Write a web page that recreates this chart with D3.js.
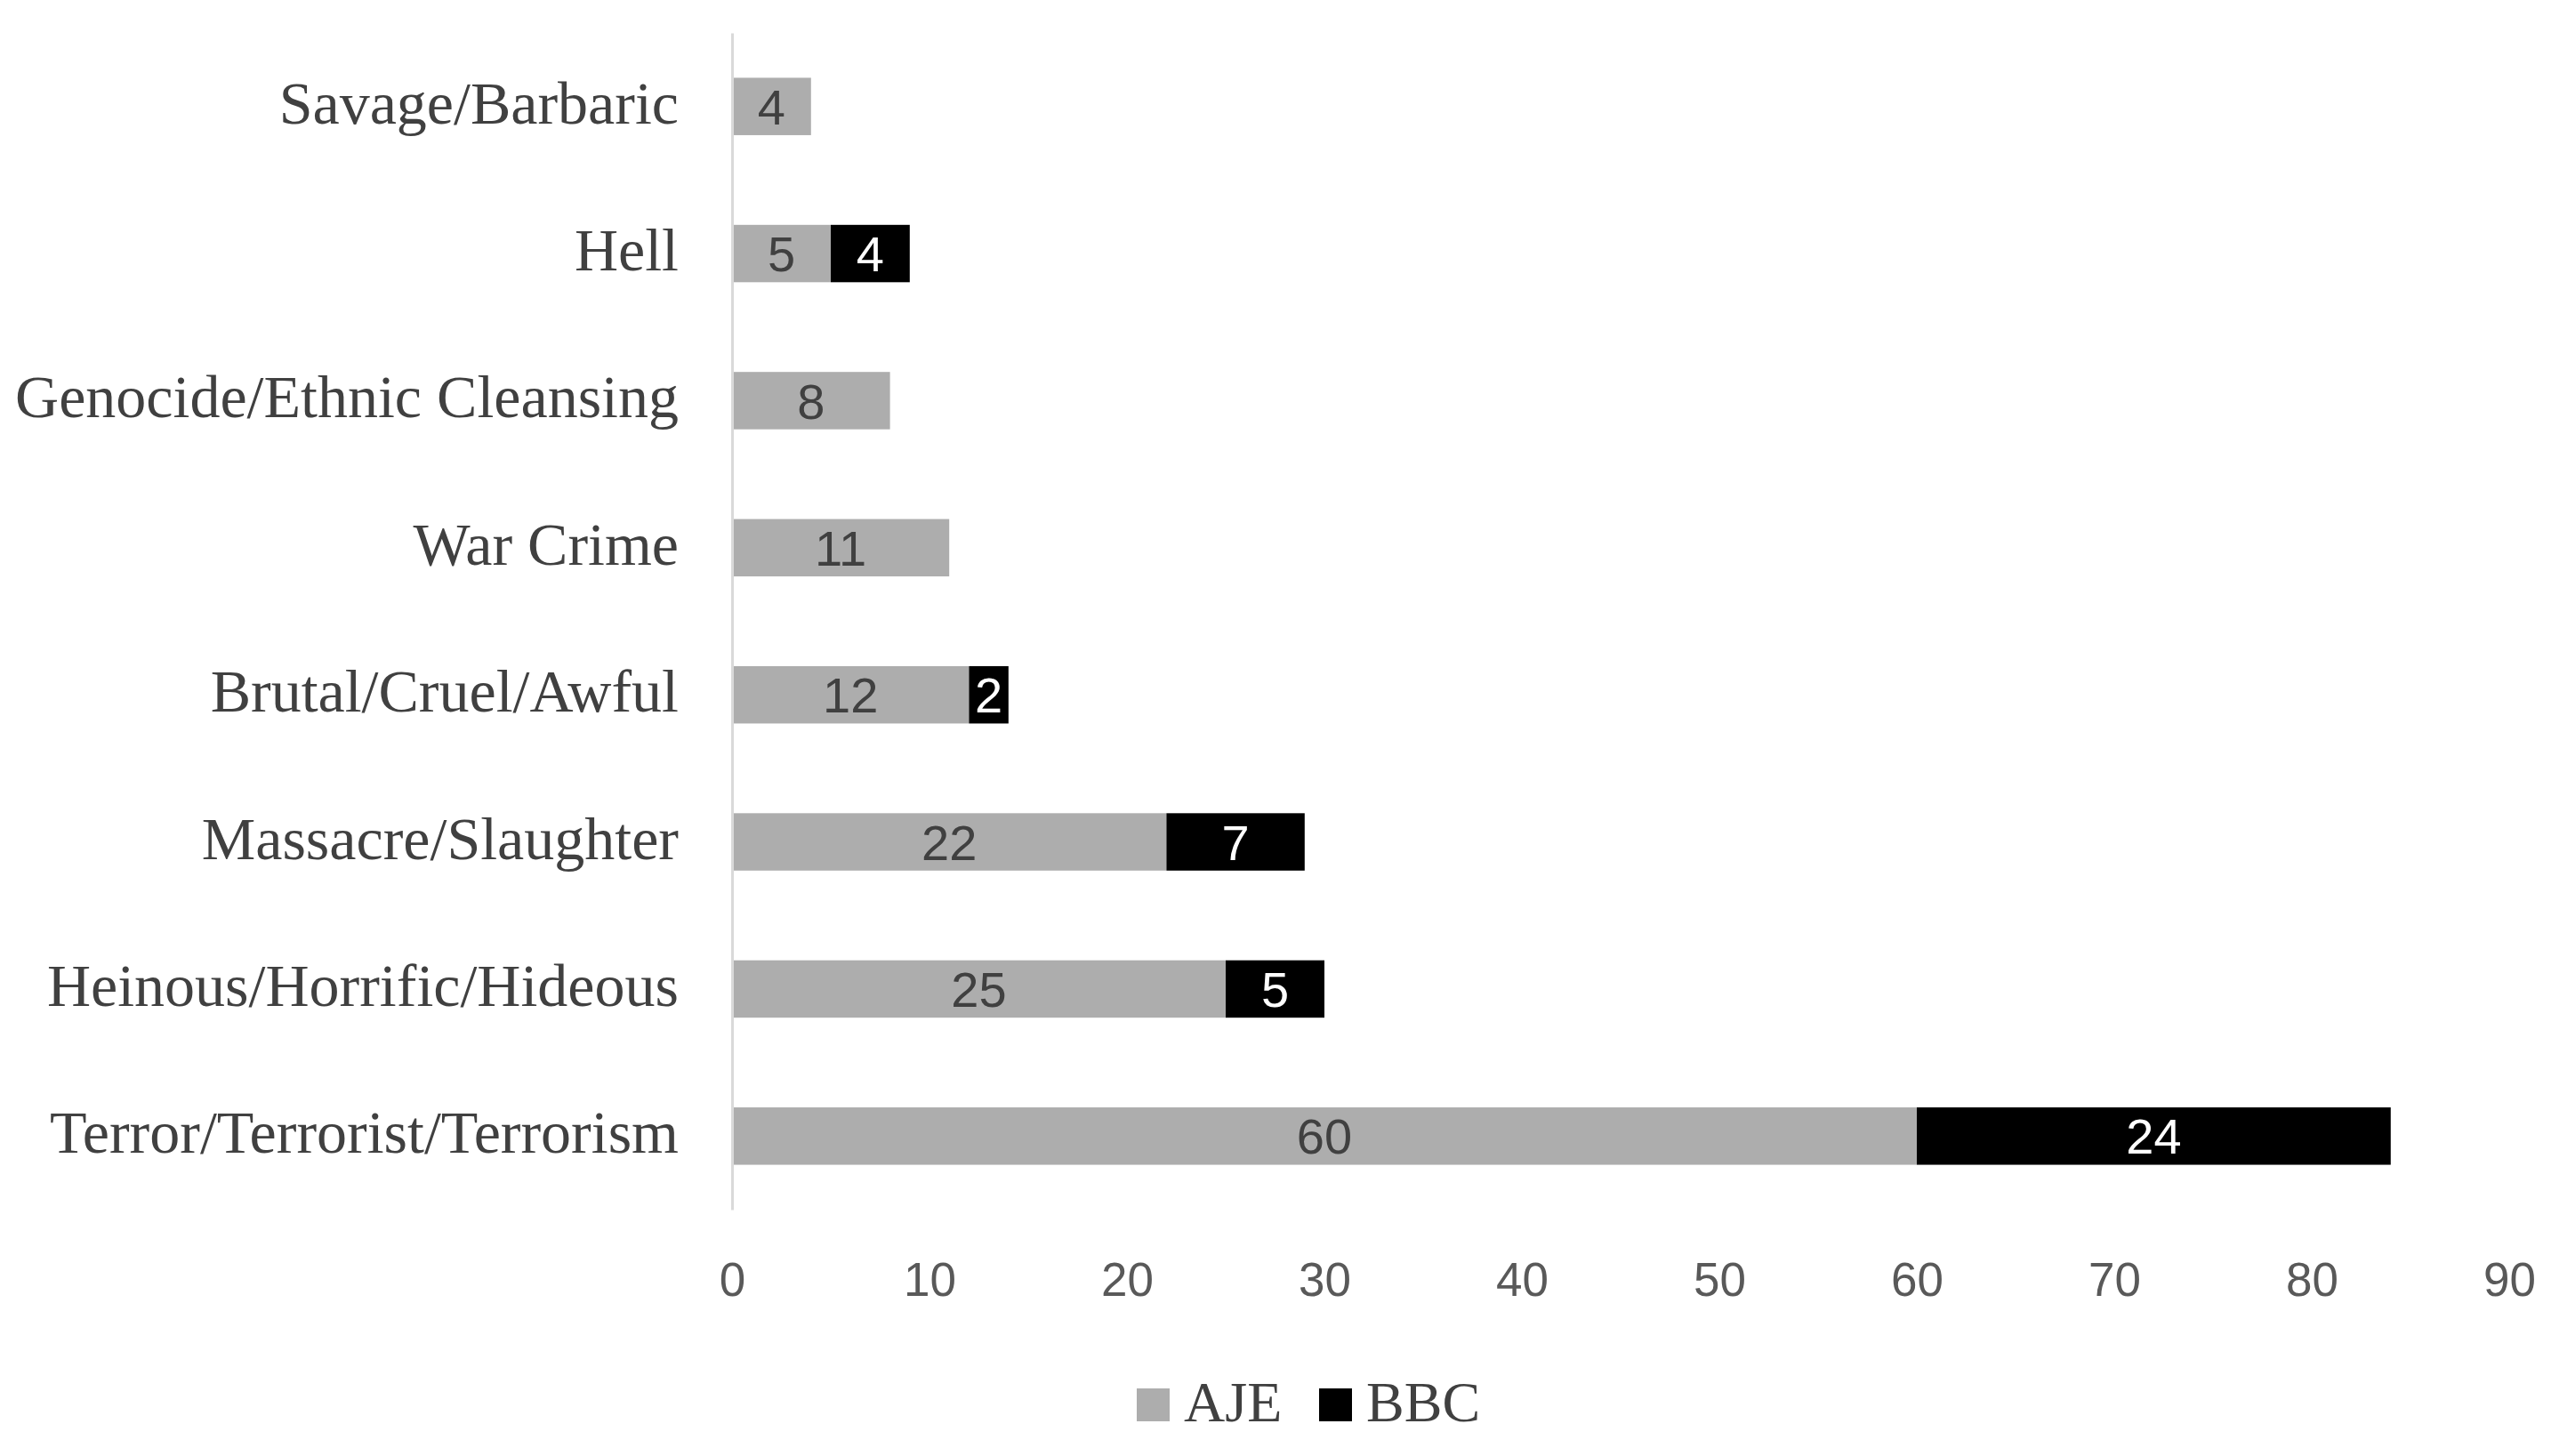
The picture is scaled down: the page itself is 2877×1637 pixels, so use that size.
<!DOCTYPE html>
<html><head><meta charset="utf-8">
<script src="https://cdn.jsdelivr.net/npm/d3@7"></script>
<style>html,body{margin:0;padding:0;background:#fff;}</style>
</head><body>
<svg id="chart" width="2877" height="1637"></svg>
<script>
const categories = ["Savage/Barbaric","Hell","Genocide/Ethnic Cleansing","War Crime","Brutal/Cruel/Awful","Massacre/Slaughter","Heinous/Horrific/Hideous","Terror/Terrorist/Terrorism"];
const aje = [4,5,8,11,12,22,25,60];
const bbc = [0,4,0,0,2,7,5,24];
const seriesNames = ["AJE","BBC"];
const xTicks = [0,10,20,30,40,50,60,70,80,90];

const svg = d3.select("#chart");
const x = d3.scaleLinear().domain([0,90]).range([823,2821]);
const y = d3.scaleBand().domain(categories).range([37,1360]).paddingInner(0.61).paddingOuter(0.305);
const colors = {AJE:"#adadad", BBC:"#000000"};

const rows = categories.map((c,i)=>({cat:c, AJE:aje[i], BBC:bbc[i]}));
const stack = d3.stack().keys(seriesNames)(rows);

// bars
stack.forEach(layer=>{
  svg.append("g").selectAll("rect").data(layer.filter(d=>d[1]-d[0]>0)).join("rect")
    .attr("x", d=>x(d[0])).attr("width", d=>x(d[1])-x(d[0]))
    .attr("y", d=>y(d.data.cat)).attr("height", y.bandwidth())
    .attr("fill", colors[layer.key]);
  svg.append("g").selectAll("text").data(layer.filter(d=>d[1]-d[0]>0)).join("text")
    .attr("x", d=>x((d[0]+d[1])/2)).attr("y", d=>y(d.data.cat)+y.bandwidth()/2)
    .attr("dy","0.36em").attr("text-anchor","middle")
    .attr("font-family","Liberation Sans, Arial, sans-serif").attr("font-size",56)
    .attr("fill", layer.key==="BBC" ? "#ffffff" : "#404040")
    .text(d=>d[1]-d[0]);
});

// vertical axis line + category labels
const gy = svg.append("g").attr("transform","translate(823,0)").call(d3.axisLeft(y).tickSize(0).tickPadding(60));
gy.select(".domain").attr("stroke","#d9d9d9").attr("stroke-width",3);
gy.selectAll("text").attr("font-family","Liberation Serif, Times New Roman, serif").attr("font-size",68)
  .attr("fill","#404040").attr("dy","0.28em");

// x axis labels
const gx = svg.append("g").attr("transform","translate(0,1360)").call(d3.axisBottom(x).tickValues(xTicks).tickSize(0).tickPadding(59));
gx.select(".domain").remove();
gx.selectAll("text").attr("font-family","Liberation Sans, Arial, sans-serif").attr("font-size",53).attr("fill","#595959");

// legend
const legend = svg.append("g");
const legendX = [1278,1483];
seriesNames.forEach((s,i)=>{
  legend.append("rect").attr("x",legendX[i]).attr("y",1561).attr("width",37).attr("height",37).attr("fill",colors[s]);
  legend.append("text").attr("x",legendX[i]+53).attr("y",1598)
    .attr("font-family","Liberation Serif, Times New Roman, serif").attr("font-size",64).attr("fill","#404040").text(s);
});
</script>
</body></html>
